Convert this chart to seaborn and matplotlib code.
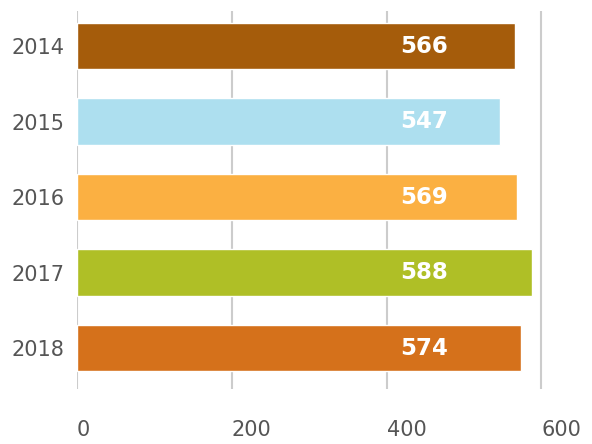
import pandas as pd
import seaborn as sns
import matplotlib.pyplot as plt

# Chart data
years = ["2014", "2015", "2016", "2017", "2018"]
values = [566, 547, 569, 588, 574]
colors = ["#A55C0B", "#ADDFEF", "#FBB042", "#AFBF26", "#D5711B"]
x_ticks = [0, 200, 400, 600]

df = pd.DataFrame({"year": years, "value": values})

sns.set_style("white")
plt.rcParams["font.family"] = ["DejaVu Sans"]

fig = plt.figure(figsize=(5.92, 4.44), dpi=100)
ax = fig.add_axes([77 / 592, 1 - 389 / 444, 503 / 592, 378 / 444])

sns.barplot(data=df, x="value", y="year", hue="year", palette=colors,
            orient="h", width=0.61, saturation=1, legend=False, ax=ax,
            zorder=3)

# value labels, all starting at the same x position
for i, v in enumerate(values):
    ax.text(418, i, str(v), color="white", fontsize=16.5, fontweight="bold",
            ha="left", va="center", zorder=4)

ax.set_xlim(0, 650)
ax.set_ylim(4.543, -0.464)
ax.set_xticks(x_ticks)
ax.set_xticklabels([str(t) for t in x_ticks], ha="left")
ax.grid(axis="x", color="#CCCCCC", linewidth=1.5, zorder=0)
ax.grid(axis="y", visible=False)
for s in ax.spines.values():
    s.set_visible(False)
ax.tick_params(axis="x", length=0, pad=22, labelsize=15, labelcolor="#555555")
ax.tick_params(axis="y", length=0, pad=9, labelsize=15, labelcolor="#555555")
ax.set_xlabel("")
ax.set_ylabel("")

fig.savefig("out.png", dpi=100)
